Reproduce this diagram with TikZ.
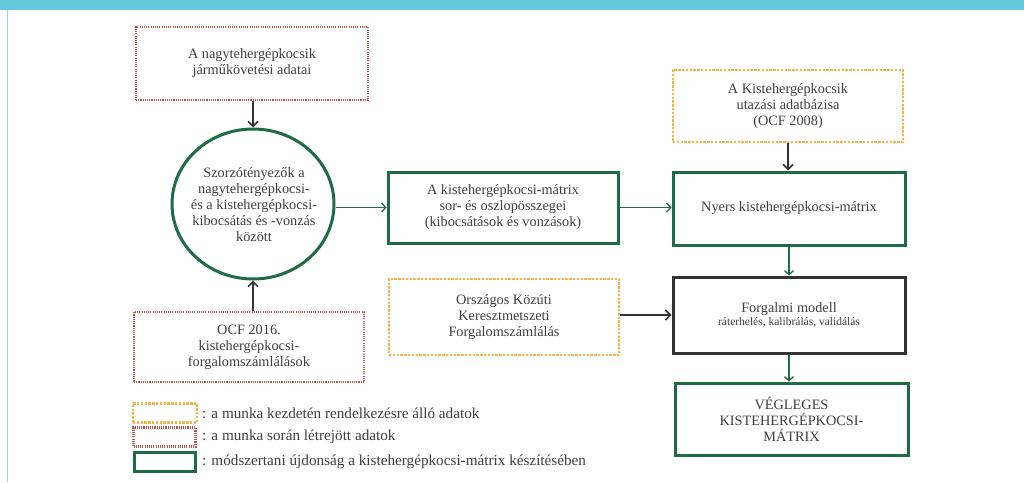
\documentclass[tikz,border=0pt]{standalone}
\usepackage{fontspec}
\setmainfont{Liberation Serif}
\usetikzlibrary{shapes.geometric,arrows.meta}
\definecolor{barc}{HTML}{64C9DD}
\definecolor{linec}{HTML}{8ED8E6}
\definecolor{redc}{HTML}{B2554C}
\definecolor{orc}{HTML}{F5B443}
\definecolor{grc}{HTML}{1E6B45}
\definecolor{blk}{HTML}{333333}
\definecolor{txt}{HTML}{3F3F3F}
\tikzset{
  base/.style={align=center, text=txt, inner sep=0pt, font=\fontsize{14.3}{16}\selectfont},
  redbox/.style={base, draw=redc, line width=2.2pt, dash pattern=on 1.1pt off 1.1pt},
  orbox/.style={base, draw=orc, line width=2.2pt, dash pattern=on 2.4pt off 1.4pt},
  grbox/.style={base, draw=grc, line width=3pt},
  bkbox/.style={base, draw=blk, line width=3pt},
  barr/.style={draw=blk, line width=1.6pt, -{Straight Barb[length=5pt,width=10pt,line width=1.6pt]}},
  garr/.style={draw=grc, line width=1.3pt, -{Straight Barb[length=4pt,width=9pt,line width=1.3pt]}},
  legtxt/.style={anchor=west, text=txt, inner sep=0pt, font=\fontsize{15.2}{16}\selectfont}
}
\begin{document}
\begin{tikzpicture}[x=1pt,y=-1pt]
\useasboundingbox (0,0) rectangle (1024,482);
\fill[white] (0,0) rectangle (1024,482);
\fill[barc] (0,0) rectangle (1024,10);
\draw[linec, line width=1.6pt] (7.5,10) -- (7.5,482);

\node[redbox, minimum width=232pt, minimum height=73pt] (top) at (252,63.5)
  {A nagytehergépkocsik\\járműkövetési adatai};
\node[ellipse, draw=grc, line width=3pt, minimum width=162pt, minimum height=150pt, inner sep=0pt] (circ) at (253,204) {};
\node[base] (circt) at (254,205)
  {Szorzótényezők a\\nagytehergépkocsi-\\és a kistehergépkocsi-\\kibocsátás és -vonzás\\között};
\node[redbox, minimum width=230pt, minimum height=70pt] (bot) at (249,347)
  {OCF 2016.\\kistehergépkocsi-\\forgalomszámlálások};
\node[grbox, minimum width=230pt, minimum height=71pt] (mid) at (503,207.5)
  {A kistehergépkocsi-mátrix\\sor- és oszlopösszegei\\(kibocsátások és vonzások)};
\node[orbox, minimum width=230pt, minimum height=72pt] (otop) at (788,106)
  {A Kistehergépkocsik\\utazási adatbázisa\\(OCF 2008)};
\node[grbox, minimum width=232pt, minimum height=73pt] (nyers) at (789,208.5)
  {Nyers kistehergépkocsi-mátrix};
\node[orbox, minimum width=230pt, minimum height=76pt] (orsz) at (504,317)
  {Országos Közúti\\Keresztmetszeti\\Forgalomszámlálás};
\node[bkbox, minimum width=232pt, minimum height=76pt] (forg) at (789,315)
  {Forgalmi modell\\[-3pt]{\fontsize{11.5}{12}\selectfont ráterhelés, kalibrálás, validálás}};
\node[grbox, minimum width=233pt, minimum height=72pt] (veg) at (791.5,419)
  {VÉGLEGES\\KISTEHERGÉPKOCSI-\\MÁTRIX};

\draw[barr] (top.south -| circ.north) -- (circ.north);
\draw[barr] (bot.north -| circ.south) -- (circ.south);
\draw[garr] (mid.west -| circ.east) -- (mid.west);
\draw[garr] (mid.east) -- (mid.east -| nyers.west);
\draw[barr] (otop.south) -- (otop.south |- nyers.north);
\draw[garr] (nyers.south) -- (nyers.south |- forg.north);
\draw[barr] (orsz.east |- forg.west) -- (forg.west);
\draw[garr] (forg.south) -- (forg.south |- veg.north);

\node[orbox, minimum width=64pt, minimum height=19pt] (lg1) at (165,413) {};
\node[redbox, minimum width=62pt, minimum height=19pt] (lg2) at (164.5,437) {};
\node[grbox, minimum width=61pt, minimum height=19pt] (lg3) at (164.5,461.5) {};
\node[legtxt] (lt1) at (202,413) {: a munka kezdetén rendelkezésre álló adatok};
\node[legtxt] (lt2) at (202,437) {: a munka során létrejött adatok};
\node[legtxt] (lt3) at (202,461.5) {: módszertani újdonság a kistehergépkocsi-mátrix készítésében};
\end{tikzpicture}
\end{document}
